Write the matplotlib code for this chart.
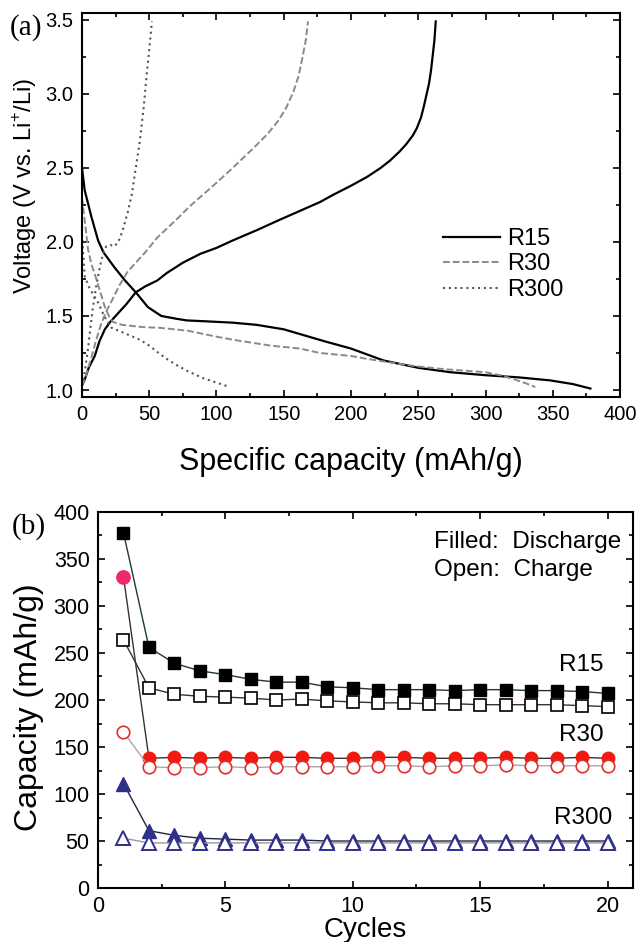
import matplotlib
matplotlib.use("Agg")
import matplotlib.pyplot as plt
from matplotlib.ticker import MultipleLocator

plt.rcParams['font.family'] = ['Liberation Sans', 'DejaVu Sans']
plt.rcParams['mathtext.fontset'] = 'custom'
plt.rcParams['mathtext.rm'] = 'Liberation Sans'

# ---- (a) voltage profiles: (capacity mAh/g, voltage V)
r15_dis_x = [0, 2, 7, 12, 16, 24, 32, 40, 49, 59, 71, 78, 90, 112, 130, 150, 165, 180, 200, 224, 250, 274, 300, 325, 348, 365, 378]
r15_dis_v = [2.50, 2.35, 2.17, 2.01, 1.93, 1.83, 1.74, 1.66, 1.56, 1.50, 1.48, 1.47, 1.465, 1.455, 1.44, 1.41, 1.37, 1.33, 1.28, 1.20, 1.15, 1.12, 1.10, 1.085, 1.065, 1.04, 1.01]
r15_chg_x = [0, 2, 5, 9.5, 13, 17, 21, 27, 33, 40, 47, 56, 63, 75, 88, 100, 112, 130, 147, 162, 177, 187, 200, 212, 222, 229, 236, 241, 246, 249, 252, 254, 256, 258, 259.5, 260.5, 262, 263]
r15_chg_v = [1.03, 1.07, 1.15, 1.23, 1.33, 1.41, 1.46, 1.52, 1.58, 1.66, 1.70, 1.74, 1.79, 1.86, 1.92, 1.96, 2.01, 2.08, 2.15, 2.21, 2.27, 2.32, 2.38, 2.44, 2.50, 2.55, 2.61, 2.66, 2.72, 2.77, 2.84, 2.91, 2.99, 3.07, 3.16, 3.24, 3.36, 3.49]

r30_dis_x = [0, 2, 4.5, 7, 10, 14, 17, 20, 23, 30, 45, 58, 79, 100, 112, 140, 162, 177, 200, 212, 230, 249, 270, 286, 300, 311, 322, 330, 337]
r30_dis_v = [2.30, 2.15, 1.95, 1.85, 1.77, 1.65, 1.56, 1.50, 1.46, 1.44, 1.425, 1.42, 1.40, 1.36, 1.34, 1.30, 1.28, 1.25, 1.23, 1.21, 1.185, 1.16, 1.14, 1.13, 1.12, 1.10, 1.07, 1.045, 1.02]
r30_chg_x = [0, 3, 7, 10, 14, 18, 22, 28, 34, 40, 47, 56, 70, 80, 90, 100, 112, 127, 138, 146, 152, 157, 161, 164, 166.5, 168]
r30_chg_v = [1.03, 1.10, 1.22, 1.32, 1.44, 1.53, 1.60, 1.71, 1.80, 1.86, 1.93, 2.03, 2.15, 2.24, 2.32, 2.40, 2.50, 2.63, 2.73, 2.82, 2.91, 3.01, 3.12, 3.25, 3.37, 3.49]

r300_dis_x = [0, 2, 5, 8, 12, 16, 19, 22, 30, 43, 50, 57, 63, 70, 78, 90, 100, 110]
r300_dis_v = [2.05, 1.77, 1.70, 1.65, 1.59, 1.51, 1.46, 1.42, 1.39, 1.34, 1.30, 1.25, 1.21, 1.17, 1.13, 1.08, 1.05, 1.02]
r300_chg_x = [0, 2, 4.5, 6, 8, 10, 12, 14, 16, 18, 21, 24, 27, 30, 34, 37, 40, 43, 46, 48, 50, 52]
r300_chg_v = [1.03, 1.12, 1.28, 1.40, 1.55, 1.67, 1.77, 1.86, 1.93, 1.97, 1.98, 1.97, 2.00, 2.07, 2.20, 2.32, 2.50, 2.68, 2.92, 3.12, 3.30, 3.49]

# ---- (b) cycling
cycles = list(range(1, 21))
r15_dis = [378, 256, 239, 231, 227, 222, 219, 219, 214, 213, 211, 211, 211, 210, 211, 211, 210, 210, 209, 207]
r15_chg = [264, 213, 206, 204, 203, 202, 200, 201, 199, 198, 197, 197, 196, 196, 195, 195, 195, 195, 194, 193]
r30_dis = [331, 138, 139, 138, 139, 138, 139, 139, 138, 138, 139, 139, 138, 138, 138, 139, 138, 138, 139, 138]
r30_chg = [166, 129, 128, 128, 129, 128, 129, 129, 129, 129, 130, 130, 129, 130, 130, 131, 130, 130, 130, 130]
r300_dis = [111, 61, 56, 53, 52, 51, 51, 51, 50, 50, 50, 50, 50, 50, 50, 50, 50, 50, 50, 50]
r300_chg = [53, 48, 48, 48, 48, 48, 48, 48, 48, 48, 48, 48, 48, 48, 48, 48, 48, 48, 48, 48]

fig = plt.figure(figsize=(6.38, 9.42), dpi=100)

# ---------------- panel (a)
ax1 = fig.add_axes([0.1285, 0.5786, 0.8433, 0.4076])
ax1.plot(r15_dis_x, r15_dis_v, color='black', lw=1.6, label='R15')
ax1.plot(r15_chg_x, r15_chg_v, color='black', lw=1.6)
ax1.plot(r30_dis_x, r30_dis_v, color='#8a8a8a', lw=1.4, dashes=(3.5, 1.5), label='R30')
ax1.plot(r30_chg_x, r30_chg_v, color='#8a8a8a', lw=1.4, dashes=(3.5, 1.5))
ax1.plot(r300_dis_x, r300_dis_v, color='#555555', lw=1.5, dashes=(1, 1.8), label='R300')
ax1.plot(r300_chg_x, r300_chg_v, color='#555555', lw=1.5, dashes=(1, 1.8))

ax1.set_xlim(0, 400)
ax1.set_ylim(0.953, 3.547)
ax1.xaxis.set_major_locator(MultipleLocator(50))
ax1.xaxis.set_minor_locator(MultipleLocator(25))
ax1.yaxis.set_major_locator(MultipleLocator(0.5))
ax1.yaxis.set_minor_locator(MultipleLocator(0.25))
ax1.yaxis.set_major_formatter(matplotlib.ticker.FormatStrFormatter('%.1f'))
ax1.set_xlabel('Specific capacity (mAh/g)', fontsize=22, labelpad=16)
ax1.set_ylabel('Voltage (V vs. Li$^{+}$/Li)', fontsize=17)
ax1.yaxis.set_label_coords(-0.08, 0.55)
ax1.legend(loc='center left', bbox_to_anchor=(0.671, 0.345), frameon=False, fontsize=17,
           handlelength=2.4, handletextpad=0.3, labelspacing=0.15, borderpad=0, borderaxespad=0)
fig.text(0.040, 0.971, '(a)', fontsize=21, family='Liberation Serif', ha='center', va='center')

# ---------------- panel (b)
ax2 = fig.add_axes([0.1536, 0.0573, 0.8386, 0.3992])
ms = 8.5
ax2.plot(cycles, r15_dis, color='#1f3a2c', lw=1.0, marker='s', ms=ms, mfc='black', mec='black', zorder=3)
ax2.plot(cycles, r15_chg, color='#333333', lw=1.0, marker='s', ms=ms, mfc='white', mec='black', mew=1.2, zorder=3)
ax2.plot(cycles, r30_dis, color='#333333', lw=1.0, marker='o', ms=ms + 0.5, mfc='#f01a10', mec='#f01a10', zorder=3)
ax2.plot(cycles[:1], r30_dis[:1], ls='none', marker='o', ms=ms + 1, mfc='#ee2a6a', mec='#ee2a6a', zorder=4)
ax2.plot(cycles, r30_chg, color='#a8a8a8', lw=1.0, marker='o', ms=ms + 0.5, mfc='white', mec='#e03030', mew=1.2, zorder=4)
ax2.plot(cycles, r300_dis, color='#222244', lw=1.0, marker='^', ms=ms + 1, mfc='#2f2f8c', mec='#2f2f8c', zorder=3)
ax2.plot(cycles, r300_chg, color='#999999', lw=1.0, marker='^', ms=ms + 1, mfc='white', mec='#2f2f8c', mew=1.4, zorder=4)

ax2.set_xlim(0, 21)
ax2.set_ylim(0, 400)
ax2.xaxis.set_major_locator(MultipleLocator(5))
ax2.xaxis.set_minor_locator(MultipleLocator(2.5))
ax2.yaxis.set_major_locator(MultipleLocator(50))
ax2.yaxis.set_minor_locator(MultipleLocator(25))
ax2.set_xlabel('Cycles', fontsize=20, labelpad=0)
ax2.set_ylabel('Capacity (mAh/g)', fontsize=23)
ax2.yaxis.set_label_coords(-0.10, 0.48)
ax2.text(13.19, 368, 'Filled:  Discharge', fontsize=17.5, va='center')
ax2.text(13.19, 338, 'Open:  Charge', fontsize=17.5, va='center')
ax2.text(18.1, 237, 'R15', fontsize=17.5, va='center')
ax2.text(18.1, 163, 'R30', fontsize=17.5, va='center')
ax2.text(17.9, 74, 'R300', fontsize=17.5, va='center')
fig.text(0.045, 0.441, '(b)', fontsize=21, family='Liberation Serif', ha='center', va='center')

for ax, fs in ((ax1, 14.5), (ax2, 15.5)):
    for s in ax.spines.values():
        s.set_linewidth(1.5)
    ax.tick_params(which='both', direction='in', top=True, right=True, width=1.2, labelsize=fs)
    ax.tick_params(which='major', length=5, pad=6)
    ax.tick_params(which='minor', length=3)

fig.savefig('out.png', dpi=100)
